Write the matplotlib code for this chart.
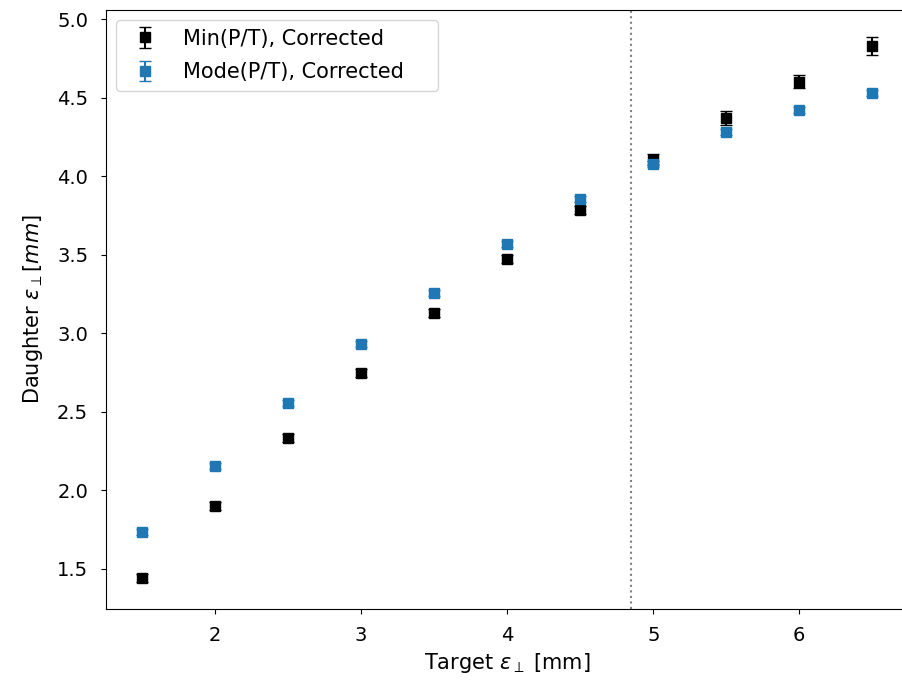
import matplotlib
matplotlib.use('Agg')
import matplotlib.pyplot as plt

# target emittance values
target = [1.5, 2.0, 2.5, 3.0, 3.5, 4.0, 4.5, 5.0, 5.5, 6.0, 6.5]

# Min(P/T) corrected
min_vals = [1.443, 1.900, 2.334, 2.748, 3.128, 3.475, 3.787, 4.105, 4.373, 4.602, 4.830]
min_err = [0.025, 0.025, 0.025, 0.025, 0.025, 0.025, 0.025, 0.035, 0.045, 0.040, 0.055]

# Mode(P/T) corrected
mode_vals = [1.736, 2.156, 2.557, 2.933, 3.258, 3.570, 3.857, 4.080, 4.280, 4.420, 4.530]
mode_err = [0.02, 0.02, 0.02, 0.02, 0.02, 0.02, 0.02, 0.02, 0.02, 0.02, 0.02]

cut = 4.85

plt.rcParams['font.size'] = 14.5

fig = plt.figure(figsize=(9.02, 6.83), dpi=100)
ax = fig.add_axes([0.117, 0.1083, 0.8906, 0.877])

ax.errorbar(target, min_vals, yerr=min_err, fmt='s', color='black',
            markersize=7.5, capsize=4, label='Min(P/T), Corrected')
ax.errorbar(target, mode_vals, yerr=mode_err, fmt='s', color='tab:blue',
            markersize=7.5, capsize=4, label='Mode(P/T), Corrected')
ax.axvline(cut, color='gray', linestyle=':', linewidth=1.5)

ax.tick_params(labelsize=14, pad=9)
ax.set_xlabel(r'Target $\epsilon_\perp$ [mm]', fontsize=15)
ax.set_ylabel(r'Daughter $\epsilon_\perp [mm]$', fontsize=15, labelpad=9)
ax.legend(loc='upper left', fontsize=15, labelspacing=0.65,
          bbox_to_anchor=(0.0, 0.0, 0.427, 1.0), mode='expand')

fig.savefig('out.png', dpi=100)
